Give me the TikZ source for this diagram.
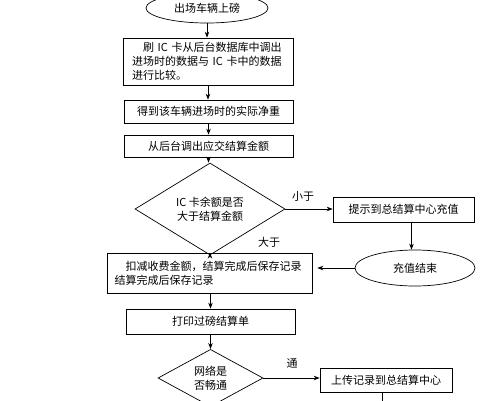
\documentclass[tikz,border=0pt]{standalone}
\usepackage{fontspec}
\setmainfont{Noto Sans CJK SC}
\usetikzlibrary{shapes.geometric,arrows.meta}
\begin{document}
\begin{tikzpicture}[x=1pt,y=-1pt,
  every node/.style={font=\fontsize{11}{14}\selectfont, inner sep=0pt, line width=0.7pt},
  box/.style={draw, rectangle, align=center},
  dec/.style={draw, diamond, align=center},
  oval/.style={draw, ellipse},
  lbl/.style={font=\fontsize{11}{12}\selectfont},
  arr/.style={line width=0.7pt, -{Stealth[length=6pt,width=4.5pt]}},
  ln/.style={line width=0.7pt}]
\useasboundingbox (0,0) rectangle (504,400);
\clip (0,0) rectangle (504,400);
\node[oval, minimum width=122, minimum height=30] (start) at (207,8) {出场车辆上磅};
\node[box, minimum width=170, minimum height=47, text width=152, align=left] (b1) at (208,61.5)
  {\hspace*{1em}刷 IC 卡从后台数据库中调出\\进场时的数据与 IC 卡中的数据\\进行比较。};
\node[box, minimum width=169, minimum height=23] (b2) at (208.5,111.5) {得到该车辆进场时的实际净重};
\node[box, minimum width=169, minimum height=22] (b3) at (208.5,146) {从后台调出应交结算金额};
\node[dec, minimum width=150, minimum height=58] (d1) at (210,209) {IC 卡余额是否\\大于结算金额};
\node[box, minimum width=141, minimum height=25] (b6) at (403.5,209.5) {提示到总结算中心充值};
\node[oval, minimum width=120, minimum height=36] (e2) at (415,268) {充值结束};
\node[box, minimum width=205, minimum height=40, text width=190, align=left] (b4) at (209.5,273)
  {\hspace*{1em}扣减收费金额，结算完成后保存记录\\结算完成后保存记录};
\node[box, minimum width=169, minimum height=25] (b5) at (210.5,321.5) {打印过磅结算单};
\node[dec, minimum width=105, minimum height=52] (d2) at (210.5,378) {网络是\\否畅通};
\node[box, minimum width=132, minimum height=24] (b7) at (386,380) {上传记录到总结算中心};
\coordinate (endB7) at (382,402);
\node[lbl] (l1) at (303,196) {小于};
\node[lbl] (l2) at (269,242) {大于};
\node[lbl] (l3) at (292,363) {通};

\draw[arr] (start.south) -- (start.south |- b1.north);
\draw[arr] (b1.south) -- (b1.south |- b2.north);
\draw[arr] (b2.south) -- (b2.south |- b3.north);
\draw[arr] (b3.south) -- (b3.south |- d1.north);
\draw[arr] (d1.east) -- (d1.east -| b6.west);
\draw[arr] ([xshift=8]b6.south) -- ([xshift=8]b6.south |- e2.north);
\draw[arr] (e2.west) -- ([xshift=5]b4.east |- e2.west);
\draw[arr] (d1.south) -- (d1.south |- b4.north);
\draw[arr] (b4.south -| b5.north) -- (b5.north);
\draw[arr] (b5.south) -- (b5.south |- d2.north);
\draw[arr] (d2.east) -- (d2.east -| b7.west);
\draw[ln] (b7.south -| endB7) -- (endB7);
\end{tikzpicture}
\end{document}
